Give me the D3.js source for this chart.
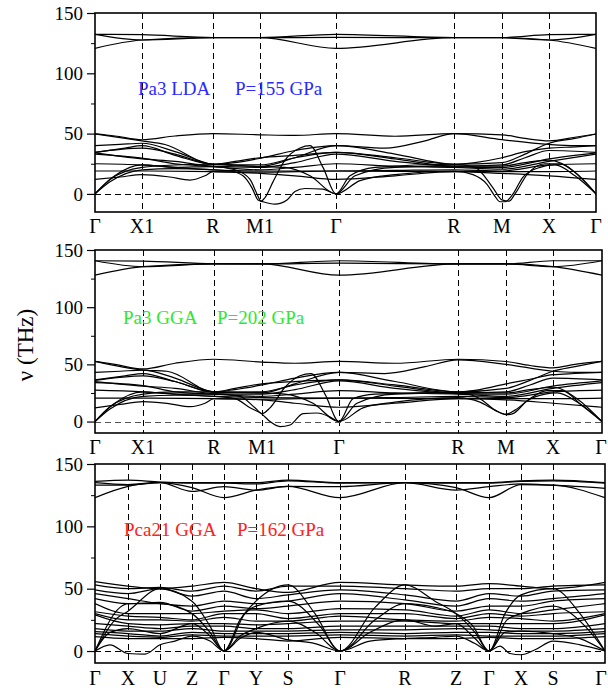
<!DOCTYPE html>
<html><head><meta charset="utf-8">
<script src="https://cdn.jsdelivr.net/npm/d3@7"></script>
<style>body{margin:0;background:#fff}svg{display:block}</style>
</head><body><svg id="c" width="608" height="691"></svg>
<script>
// ---------------- DATA ----------------
const yMajor = [0, 50, 100, 150];
const yMinor = [25, 75, 125];

// Panel 1: Pa3 LDA, P=155 GPa
const p1Ticks  = [0, 47, 118, 165, 241, 359, 407, 454, 501];
const p1Labels = ["Γ", "X1", "R", "M1", "Γ", "R", "M", "X", "Γ"];
const p1Bands = [
  [[0,132.3],[47,132],[118,129.7],[165,129.7],[241,132.3],[359,129.7],[407,129.7],[454,132],[501,132.3]],
  [[0,132.3],[47,127.6],[118,129.5],[165,129.5],[241,129.8],[359,129.5],[407,129.5],[454,127.6],[501,132.3]],
  [[0,120.7],[47,127.6],[118,129.5],[165,129.5],[241,120.7],[359,129.5],[407,129.5],[454,127.6],[501,120.7]],
  [[0,49.7],[20,48],[47,44.9],[80,48],[118,50],[165,49],[200,48.5],[241,50],[300,47.8],[359,50],[407,49],[430,46],[454,44],[480,47],[501,49.7]],
  [[0,49.7],[47,44],[70,41],[118,24.6],[140,27],[165,30],[200,32],[241,34.5],[300,30],[359,24.6],[407,26],[430,33],[454,42],[480,46],[501,49.7]],
  [[0,40],[25,41],[47,42],[80,35],[118,24.6],[165,22.7],[200,30],[241,40],[290,38],[330,44],[359,50],[407,45],[454,41],[480,40],[501,40]],
  [[0,34.5],[30,38],[47,40],[80,32],[118,24.6],[140,26],[165,29.5],[200,36],[241,40],[300,33],[359,24.6],[380,26],[407,30],[430,35],[454,38],[480,39],[501,40]],
  [[0,34.5],[47,38],[80,33],[118,24.6],[165,24],[200,30],[241,34.5],[300,29],[359,23],[407,24],[430,30],[454,36],[501,34.5]],
  [[0,34],[47,29],[80,27],[118,23],[165,22],[200,26],[241,33],[300,27],[359,22.7],[407,22],[454,29],[501,34]],
  [[0,33],[47,29.6],[80,25],[118,22.7],[165,20],[200,22],[241,25],[300,23],[359,22],[407,20.5],[454,27],[501,33]],
  [[0,25],[47,24],[80,22],[118,20],[165,19],[241,19],[300,19.5],[359,20],[407,19],[454,24],[501,25]],
  [[0,19],[47,19],[118,18.5],[165,18],[241,19],[359,18.5],[407,18.5],[454,18.5],[501,19]],
  [[0,12],[25,14],[47,16],[75,14],[95,11.5],[110,15],[118,18.5],[165,17],[200,15],[241,12],[300,15],[359,18.5],[407,17],[454,15],[501,12]],
  [[0,0],[15,12],[47,22],[80,24],[118,24.6],[165,22.7],[190,22],[215,15],[241,0],[260,15],[300,22],[359,23],[407,23],[430,26],[454,28],[480,18],[501,0]],
  [[0,0],[15,10],[47,20],[80,21],[118,20],[135,19],[148,15],[157,5],[163,-5],[168,-6.5],[180,-8.5],[192,-5],[200,2],[210,4.5],[228,4],[241,0],[265,11],[300,16],[359,19],[378,16],[392,8],[400,-2],[405,-6.5],[410,-6.5],[418,0],[428,14],[445,22],[460,24],[480,15],[501,0]],
  [[0,0],[18,14],[47,24],[80,22],[118,22.7],[140,20],[155,12],[162,0],[166,-6],[170,-3],[178,10],[190,28],[205,38],[215,40],[228,22],[241,0],[255,15],[280,22],[359,24.6],[380,22],[398,5],[407,-5],[414,-6],[420,0],[432,16],[450,25],[465,25],[485,14],[501,0]]
];

// Panel 2: Pa3 GGA, P=202 GPa
const p2Ticks  = [0, 48, 119, 167, 244, 363, 411, 458, 507];
const p2Labels = ["Γ", "X1", "R", "M1", "Γ", "R", "M", "X", "Γ"];
const p2Bands = [
  [[0,140.6],[48,140.3],[119,138],[167,137.8],[244,140.6],[363,137.8],[411,137.8],[458,140.6],[507,140.6]],
  [[0,140.6],[48,135.4],[119,137.8],[167,137.8],[244,138.5],[363,137.8],[411,137.8],[458,135.4],[507,140.6]],
  [[0,128],[48,135.4],[119,137.8],[167,137.8],[244,128],[363,137.8],[411,137.8],[458,135.4],[507,128]],
  [[0,52.6],[20,50],[48,46],[80,51],[119,54.5],[167,52],[200,51],[244,52.6],[300,51],[363,54.5],[411,52.5],[435,49],[458,47],[480,50],[507,52.6]],
  [[0,52.6],[48,45],[72,44],[119,26],[140,29],[167,33],[200,35],[244,36.5],[300,32],[363,26],[411,29],[435,36],[458,44],[480,48],[507,52.6]],
  [[0,43],[25,44],[48,45],[80,38],[119,26],[167,25],[200,33],[244,43],[290,42],[330,48],[363,54],[411,50],[458,44],[480,43],[507,43]],
  [[0,36.5],[30,40],[48,42],[80,35],[119,26],[140,28],[167,32],[200,38],[244,43],[300,35],[363,26],[385,28],[411,33],[435,37],[458,41],[480,42],[507,43]],
  [[0,36],[48,40],[80,35],[119,25.6],[167,26],[200,32],[244,36.5],[300,31],[363,25],[411,26],[435,32],[458,38],[507,36.5]],
  [[0,35],[48,31],[80,29],[119,24.5],[167,24],[200,28],[244,35.5],[300,29],[363,24.5],[411,24],[458,31],[507,35.5]],
  [[0,34],[48,31.5],[80,26],[119,24],[167,22],[200,24],[244,27],[300,25],[363,24],[411,22],[458,29],[507,34]],
  [[0,27.5],[48,26],[80,24],[119,22],[167,21],[244,20.5],[300,21],[363,22],[411,21],[458,26],[507,27.5]],
  [[0,20.5],[48,20.5],[119,20],[167,19.5],[244,20.5],[363,20],[411,20],[458,20],[507,20.5]],
  [[0,12],[25,15],[48,17.5],[75,15.5],[95,13],[110,16],[119,20],[167,19],[200,16],[244,12.5],[300,16],[363,20],[411,19],[458,16],[507,12.5]],
  [[0,0],[15,13],[48,24],[80,26],[119,26],[167,25],[190,24],[218,16],[244,0],[262,16],[300,24],[363,25],[411,25],[435,28],[458,30],[482,20],[507,0]],
  [[0,0],[15,11],[48,22],[80,23],[119,22],[140,20],[155,12],[167,6.5],[175,0],[185,-4.4],[195,-3],[208,7],[222,7.5],[235,4],[244,0],[268,12],[300,17],[363,21],[385,17],[400,10],[411,6],[418,7],[432,18],[450,24],[462,25],[484,16],[507,0]],
  [[0,0],[18,15],[48,26],[80,24],[119,24],[145,22],[160,12],[167,7],[175,12],[190,30],[205,40],[216,42],[230,24],[244,0],[258,20],[280,24],[363,25.6],[385,20],[402,9],[411,6.5],[420,10],[435,20],[452,27],[467,27],[487,14],[507,0]]
];

// Panel 3: Pca21 GGA, P=162 GPa
const p3Ticks  = [0, 33, 65, 97, 129, 161, 193, 245, 310, 361, 394, 426, 458, 510];
const p3Labels = ["Γ", "X", "U", "Z", "Γ", "Y", "S", "Γ", "R", "Z", "Γ", "X", "S", "Γ"];
const p3Bands = [
  [[0,136],[33,137],[65,135.5],[97,135],[129,135],[161,135],[193,137],[245,135],[310,135],[361,135],[394,135],[426,136.5],[458,137],[510,135]],
  [[0,135],[33,133.5],[65,135.3],[97,134.6],[129,134.6],[161,134],[193,136.5],[245,134.6],[310,135],[361,134.6],[394,134.6],[426,136],[458,136.5],[510,134.6]],
  [[0,133],[33,133],[65,135],[97,128],[129,131.8],[161,129],[193,132],[245,131.8],[310,135],[361,129],[394,131.8],[426,134],[458,133],[510,130.5]],
  [[0,123],[33,132],[65,135],[97,131],[129,123],[161,129],[193,132],[245,123],[310,135],[361,131],[394,123],[426,133.5],[458,133],[510,123]],
  [[0,55.6],[33,52],[65,50],[97,52],[129,55],[161,50],[193,47],[245,55],[310,53],[361,52],[394,54],[426,52],[458,50],[510,55]],
  [[0,53],[33,50],[65,51],[97,48],[129,52],[161,48],[193,52],[245,52],[310,50],[361,48],[394,50],[426,50],[458,52],[510,53]],
  [[0,49],[33,46],[65,50],[97,44],[129,48],[161,42],[193,45],[245,49],[310,45],[361,40],[394,46],[426,44],[458,48],[510,49]],
  [[0,46],[33,42],[65,38],[97,36],[129,40],[161,38],[193,40],[245,46],[310,41],[361,36],[394,42],[426,40],[458,42],[510,46]],
  [[0,42],[33,38],[65,39],[97,32],[129,36],[161,34],[193,36],[245,40],[310,38],[361,32],[394,36],[426,36],[458,40],[510,42]],
  [[0,38],[33,30],[65,30],[97,30],[129,32],[161,33],[193,30],[245,34],[310,33],[361,28],[394,33],[426,30],[458,33],[510,38]],
  [[0,31.5],[33,28],[65,27],[97,25],[129,30],[161,30],[193,26],[245,30],[310,30],[361,26],[394,30],[426,28],[458,30],[510,31.5]],
  [[0,30],[33,25],[65,25],[97,24],[129,27],[161,24],[193,24],[245,28],[310,25],[361,24],[394,27],[426,26],[458,24],[510,30]],
  [[0,29],[33,22],[65,21],[97,22],[129,22],[161,21],[193,22],[245,24],[310,24],[361,22],[394,22],[426,22],[458,22],[510,29]],
  [[0,22],[33,20],[65,18],[97,20],[129,20],[161,18],[193,18],[245,20],[310,20],[361,20],[394,20],[426,18],[458,18],[510,22]],
  [[0,18],[33,16],[65,16],[97,18],[129,16],[161,16],[193,16],[245,17],[310,17],[361,18],[394,17],[426,16],[458,16],[510,18]],
  [[0,15.5],[33,14],[65,12],[97,15],[129,14],[161,14],[193,14],[245,15],[310,14],[361,15],[394,15],[426,14],[458,14],[510,15.5]],
  [[0,14],[33,12],[65,11],[97,13],[129,12],[161,12],[193,12],[245,13],[310,12],[361,13],[394,12],[426,12],[458,12],[510,14]],
  [[0,11.5],[33,10],[65,10],[97,10],[129,11],[161,10],[193,8],[245,11],[310,10],[361,10],[394,11],[426,10],[458,10],[510,11.5]],
  [[0,0],[20,25],[33,32],[65,50],[97,40],[115,20],[129,0],[145,25],[161,40],[193,53],[220,30],[245,0],[280,35],[310,53],[340,40],[361,30],[380,15],[394,0],[410,30],[426,45],[458,50],[485,30],[510,0]],
  [[0,0],[25,35],[33,38],[65,38],[97,30],[115,15],[129,0],[150,30],[161,36],[193,40],[225,20],[245,0],[280,25],[310,38],[340,35],[361,30],[378,20],[394,0],[412,25],[426,30],[458,36],[490,20],[510,0]],
  [[0,0],[15,15],[33,18],[65,14],[97,22],[115,12],[129,0],[145,12],[161,18],[193,24],[220,15],[245,0],[275,15],[310,25],[340,20],[361,22],[380,10],[394,0],[410,15],[426,16],[458,14],[485,10],[510,0]],
  [[0,0],[15,5],[33,-2],[50,-2.5],[65,5],[80,8],[97,12],[115,8],[129,0],[145,10],[161,15],[193,9],[220,6],[245,0],[275,8],[310,10],[340,11],[361,12],[380,6],[394,0],[405,4],[415,-2],[426,-3],[440,1],[458,8],[485,5],[510,0]]
];

const notes = [
  {left: "Pa3 LDA", right: "P=155 GPa", color: "#2a2aff"},
  {left: "Pa3 GGA", right: "P=202 GPa", color: "#2ee82e"},
  {left: "Pca21 GGA", right: "P=162 GPa", color: "#ff2020"}
];

// ---------------- LAYOUT ----------------
const panels = [
  {ticks: p1Ticks, labels: p1Labels, bands: p1Bands, note: notes[0], box: {l:95, r:596, t:13, b:212}, yMin: -15, zero: "#000",
   noteX: [138, 235], noteY: 95, labelY: 233},
  {ticks: p2Ticks, labels: p2Labels, bands: p2Bands, note: notes[1], box: {l:95, r:602, t:250, b:433}, yMin: -10, zero: "#555",
   noteX: [123, 217], noteY: 324, labelY: 454},
  {ticks: p3Ticks, labels: p3Labels, bands: p3Bands, note: notes[2], box: {l:95, r:605, t:464, b:663}, yMin: -9.6, zero: "#000",
   noteX: [124, 237], noteY: 536, labelY: 685}
];

const font = "'Liberation Serif','Times New Roman',Times,serif";
const svg = d3.select("#c");
const W = 608;

panels.forEach((p, i) => {
  const x = d3.scaleLinear().domain([0, d3.max(p.ticks)]).range([p.box.l, p.box.r]);
  const y = d3.scaleLinear().domain([p.yMin, 150]).range([p.box.b, p.box.t]);
  const g = svg.append("g");

  g.append("clipPath").attr("id", "clip" + i).append("rect")
    .attr("x", p.box.l).attr("y", p.box.t)
    .attr("width", p.box.r - p.box.l).attr("height", p.box.b - p.box.t);

  // vertical dashed lines at symmetry points
  g.selectAll(".vl").data(p.ticks.slice(1, -1)).enter().append("line")
    .attr("x1", d => Math.round(x(d)) + 0.5).attr("x2", d => Math.round(x(d)) + 0.5)
    .attr("y1", p.box.t).attr("y2", p.box.b)
    .attr("stroke", "#000").attr("stroke-width", 1.2).attr("stroke-dasharray", "6,4")
    .attr("shape-rendering", "crispEdges");

  // zero line
  g.append("line").attr("x1", p.box.l).attr("x2", p.box.r)
    .attr("y1", Math.round(y(0)) + 0.5).attr("y2", Math.round(y(0)) + 0.5)
    .attr("stroke", p.zero).attr("stroke-width", 1.2).attr("stroke-dasharray", "6,4")
    .attr("shape-rendering", "crispEdges");

  // bands
  const line = d3.line().x(d => x(d[0])).y(d => y(d[1])).curve(d3.curveMonotoneX);
  g.append("g").attr("clip-path", "url(#clip" + i + ")")
    .selectAll("path").data(p.bands).enter().append("path")
    .attr("d", line).attr("fill", "none").attr("stroke", "#000").attr("stroke-width", 1.2);

  // frame
  g.append("rect").attr("x", p.box.l).attr("y", p.box.t)
    .attr("width", p.box.r - p.box.l).attr("height", p.box.b - p.box.t)
    .attr("fill", "none").attr("stroke", "#000").attr("stroke-width", 1.6);

  // y axis
  const ax = g.append("g").attr("transform", `translate(${p.box.l},0)`)
    .call(d3.axisLeft(y).tickValues(yMajor).tickSize(8).tickPadding(4).tickFormat(d3.format("d")));
  ax.select(".domain").remove();
  ax.selectAll("line").attr("stroke-width", 1.2);
  ax.selectAll("text").attr("font-family", font).attr("font-size", 19).attr("fill", "#000");
  const axm = g.append("g").attr("transform", `translate(${p.box.l},0)`)
    .call(d3.axisLeft(y).tickValues(yMinor).tickSize(4).tickFormat(""));
  axm.select(".domain").remove();

  // x labels
  g.selectAll(".xl").data(p.ticks).enter().append("text")
    .attr("x", d => Math.min(x(d), W - 7)).attr("y", p.labelY).attr("text-anchor", "middle")
    .attr("font-family", font).attr("font-size", 20).attr("fill", "#000")
    .text((d, j) => p.labels[j]);

  // annotation
  g.append("text").attr("x", p.noteX[0]).attr("y", p.noteY)
    .attr("font-family", font).attr("font-size", 19).attr("fill", p.note.color).text(p.note.left);
  g.append("text").attr("x", p.noteX[1]).attr("y", p.noteY)
    .attr("font-family", font).attr("font-size", 19).attr("fill", p.note.color).text(p.note.right);
});

// y axis title
svg.append("text").attr("transform", "translate(33,345) rotate(-90)")
  .attr("text-anchor", "middle").attr("font-family", font).attr("font-size", 23)
  .attr("fill", "#000").text("ν (THz)");
</script>
</body></html>
